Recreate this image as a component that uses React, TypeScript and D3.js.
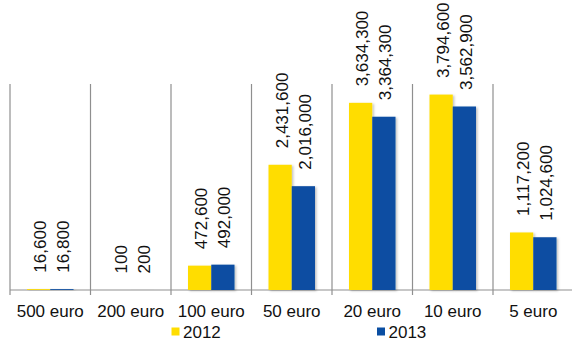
import React from "react";
import * as d3 from "d3";

const categories = ["500 euro", "200 euro", "100 euro", "50 euro", "20 euro", "10 euro", "5 euro"];
const series = ["2012", "2013"];
const values2012 = [16600, 100, 472600, 2431600, 3634300, 3794600, 1117200];
const values2013 = [16800, 200, 492000, 2016000, 3364300, 3562900, 1024600];
const colors = ["#FFDD00", "#0A4EA2"];

const W = 572;
const H = 338;
const left = 10;
const step = 80.5;
const baseY = 290;
const topY = 84;
const FONT = "'Liberation Sans', Arial, sans-serif";
const FS = 17;

export default function App() {
  const x = d3
    .scaleBand<string>()
    .domain(categories)
    .range([left, left + step * categories.length])
    .paddingInner(0)
    .paddingOuter(0);
  const inner = d3.scaleBand<string>().domain(series).range([17, step - 17]).padding(0);
  const y = d3.scaleLinear().domain([0, 4000000]).range([baseY, topY]);
  const fmt = d3.format(",");
  const data = [values2012, values2013];
  const bounds = categories.map((c) => x(c) as number).concat([left + step * categories.length]);

  return (
    <svg
      width={W}
      height={H}
      style={{ position: "absolute", left: 0, top: 0, background: "#fff" }}
      fontFamily={FONT}
    >
      <defs>
        <filter id="sh" x="-20%" y="-20%" width="150%" height="150%">
          <feDropShadow dx="1.5" dy="1" stdDeviation="1.2" floodColor="#000" floodOpacity="0.25" />
        </filter>
      </defs>
      {bounds.map((bx, i) => (
        <line key={"g" + i} x1={bx} x2={bx} y1={topY} y2={baseY + 5} stroke="#8f8f8f" strokeWidth={1.2} />
      ))}
      <line x1={left} x2={W} y1={baseY} y2={baseY} stroke="#8f8f8f" strokeWidth={1.2} />
      {categories.map((c, ci) =>
        series.map((s, si) => {
          const v = data[si][ci];
          const bx = (x(c) as number) + (inner(s) as number);
          const bw = inner.bandwidth();
          const top = y(v);
          return (
            <g key={c + s}>
              <rect
                x={bx}
                y={top}
                width={bw}
                height={baseY - top}
                fill={colors[si]}
                filter="url(#sh)"
              />
              <text
                transform={`translate(${bx + bw / 2 + 7.5},${top - 16.5}) rotate(-90)`}
                fontSize={FS}
                fill="#111"
              >
                {fmt(v)}
              </text>
            </g>
          );
        })
      )}
      {categories.map((c) => (
        <text
          key={"l" + c}
          x={(x(c) as number) + step / 2}
          y={316.7}
          textAnchor="middle"
          fontSize={FS}
          fill="#111"
        >
          {c}
        </text>
      ))}
      {series.map((s, i) => {
        const lx = i === 0 ? 171.5 : 377;
        return (
          <g key={"lg" + s}>
            <rect x={lx} y={327.5} width={8} height={8} fill={colors[i]} />
            <text x={lx + 11.5} y={337.5} fontSize={FS} fill="#111">
              {s}
            </text>
          </g>
        );
      })}
    </svg>
  );
}
